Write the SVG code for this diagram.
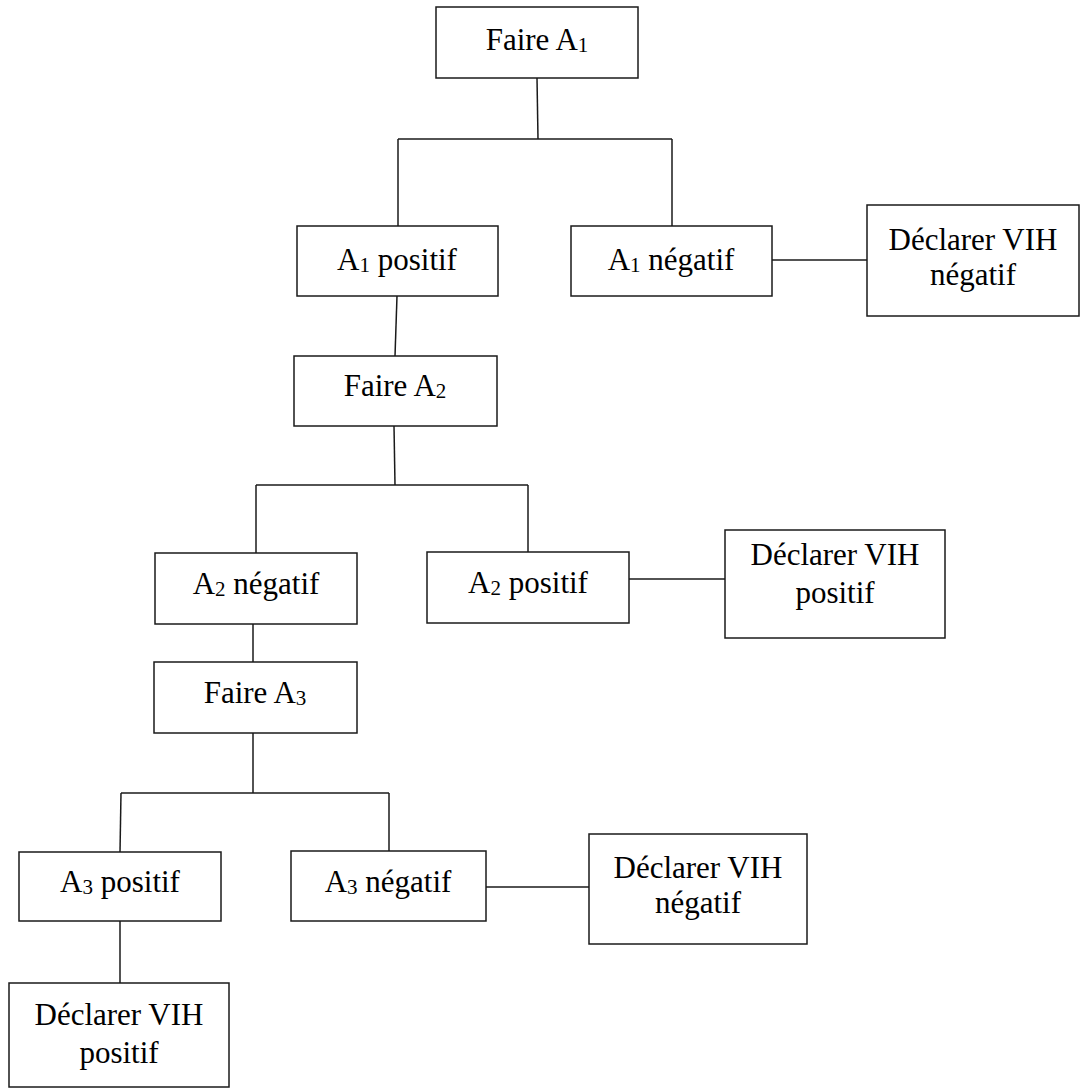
<svg xmlns="http://www.w3.org/2000/svg" width="1081" height="1088" viewBox="0 0 1081 1088">
<style>
.box{fill:#fff;stroke:#1a1a1a;stroke-width:1.5}
.lbl{font-family:"Liberation Serif","Times New Roman",serif;font-size:31px;fill:#000;text-anchor:middle}
.sub{font-size:21px}
.conn line{stroke:#1a1a1a;stroke-width:1.5}
</style>
<rect width="1081" height="1088" fill="#fff"/>
<g id="connectors" class="conn">
<line x1="537" y1="78" x2="538" y2="139"/>
<line x1="398" y1="139" x2="672" y2="139"/>
<line x1="398" y1="139" x2="398" y2="226"/>
<line x1="672" y1="139" x2="672" y2="226"/>
<line x1="772" y1="260" x2="867" y2="260"/>
<line x1="397" y1="296" x2="395" y2="356"/>
<line x1="394" y1="426" x2="395" y2="485"/>
<line x1="256" y1="485" x2="528" y2="485"/>
<line x1="256" y1="485" x2="256" y2="553"/>
<line x1="528" y1="485" x2="528" y2="552"/>
<line x1="629" y1="579" x2="725" y2="579"/>
<line x1="253" y1="624" x2="253" y2="662"/>
<line x1="253" y1="733" x2="253" y2="793"/>
<line x1="121" y1="793" x2="389" y2="793"/>
<line x1="121" y1="793" x2="120" y2="852"/>
<line x1="389" y1="793" x2="389" y2="851"/>
<line x1="486" y1="887" x2="589" y2="887"/>
<line x1="120" y1="921" x2="120" y2="983"/>
</g>
<g id="faire-a1"><rect class="box" x="436" y="7" width="202" height="71"/><text class="lbl" x="537" y="50">Faire A<tspan class="sub" dy="2">1</tspan></text></g>
<g id="a1-positif"><rect class="box" x="297" y="226" width="201" height="70"/><text class="lbl" x="397" y="270">A<tspan class="sub" dy="2">1</tspan><tspan dy="-2"> positif</tspan></text></g>
<g id="a1-negatif"><rect class="box" x="571" y="226" width="201" height="70"/><text class="lbl" x="671" y="270">A<tspan class="sub" dy="2">1</tspan><tspan dy="-2"> négatif</tspan></text></g>
<g id="declarer-neg-1"><rect class="box" x="867" y="205" width="212" height="111"/><text class="lbl" x="973" y="250">Déclarer VIH</text><text class="lbl" x="973" y="285">négatif</text></g>
<g id="faire-a2"><rect class="box" x="294" y="356" width="203" height="70"/><text class="lbl" x="395" y="396">Faire A<tspan class="sub" dy="2">2</tspan></text></g>
<g id="a2-negatif"><rect class="box" x="155" y="553" width="202" height="71"/><text class="lbl" x="256" y="594">A<tspan class="sub" dy="2">2</tspan><tspan dy="-2"> négatif</tspan></text></g>
<g id="a2-positif"><rect class="box" x="427" y="552" width="202" height="71"/><text class="lbl" x="528" y="593">A<tspan class="sub" dy="2">2</tspan><tspan dy="-2"> positif</tspan></text></g>
<g id="declarer-pos-1"><rect class="box" x="725" y="530" width="220" height="108"/><text class="lbl" x="835" y="565">Déclarer VIH</text><text class="lbl" x="835" y="603">positif</text></g>
<g id="faire-a3"><rect class="box" x="154" y="662" width="203" height="71"/><text class="lbl" x="255" y="703">Faire A<tspan class="sub" dy="2">3</tspan></text></g>
<g id="a3-positif"><rect class="box" x="19" y="852" width="202" height="69"/><text class="lbl" x="120" y="892">A<tspan class="sub" dy="2">3</tspan><tspan dy="-2"> positif</tspan></text></g>
<g id="a3-negatif"><rect class="box" x="291" y="851" width="195" height="70"/><text class="lbl" x="388" y="892">A<tspan class="sub" dy="2">3</tspan><tspan dy="-2"> négatif</tspan></text></g>
<g id="declarer-neg-2"><rect class="box" x="589" y="834" width="218" height="110"/><text class="lbl" x="698" y="878">Déclarer VIH</text><text class="lbl" x="698" y="913">négatif</text></g>
<g id="declarer-pos-2"><rect class="box" x="9" y="983" width="220" height="104"/><text class="lbl" x="119" y="1025">Déclarer VIH</text><text class="lbl" x="119" y="1063">positif</text></g>
</svg>
